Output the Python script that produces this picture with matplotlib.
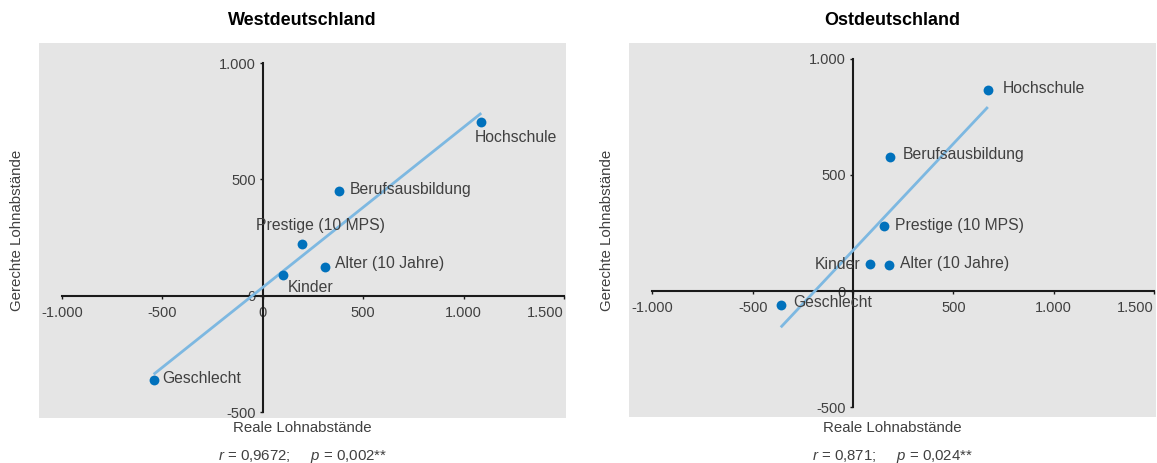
import numpy as np
import matplotlib
matplotlib.use("Agg")
import matplotlib.pyplot as plt
from matplotlib.ticker import FuncFormatter

plt.rcParams['font.family'] = ['Liberation Sans', 'DejaVu Sans']
plt.rcParams['mathtext.fontset'] = 'custom'
plt.rcParams['mathtext.it'] = 'Liberation Sans:italic'
plt.rcParams['mathtext.rm'] = 'Liberation Sans'

# data
labels = ["Hochschule", "Berufsausbildung", "Prestige (10 MPS)",
          "Alter (10 Jahre)", "Kinder", "Geschlecht"]

west_real = [1088, 380, 194, 311, 101, -544]
west_fair = [748, 451, 224, 122, 89, -362]
east_real = [672, 186, 154, 181, 83, -360]
east_fair = [865, 578, 280, 113, 116, -62]

west_stats = ("0,9672", "0,002**")
east_stats = ("0,871", "0,024**")

x_ticks = [-1000, -500, 0, 500, 1000, 1500]
y_ticks = [-500, 0, 500, 1000]

# label placement in pixels (dx, dy, ha)
west_offsets = [(-7, -16, 'left'), (11, 1, 'left'), (-46, 18, 'left'),
                (10, 4, 'left'), (5, -12, 'left'), (9, 2, 'left')]
east_offsets = [(15, 2, 'left'), (12, 2, 'left'), (11, 1, 'left'),
                (11, 1, 'left'), (-9, 0, 'right'), (12, 3, 'left')]

DOT = "#0071BC"
LINE = "#7DB8E1"
TEXT = "#404040"
BG = "#E5E5E5"


def fmt(v, pos):
    return f"{v:,.0f}".replace(",", ".")


def draw_panel(ax, title, xs, ys, offsets, stats, ylim, hide_x0=False):
    ax.set_facecolor(BG)
    ax.set_xlim(-1115, 1510)
    ax.set_ylim(*ylim)

    for side in ["top", "right"]:
        ax.spines[side].set_visible(False)
    ax.spines["left"].set_position(("data", 0))
    ax.spines["bottom"].set_position(("data", 0))
    ax.spines["left"].set_bounds(-500, 1000)
    ax.spines["bottom"].set_bounds(-1000, 1500)
    for side in ["left", "bottom"]:
        ax.spines[side].set_linewidth(1.5)
        ax.spines[side].set_color("#1a1a1a")
        ax.spines[side].set_zorder(2)

    ax.set_xticks(x_ticks)
    ax.set_yticks(y_ticks)
    ax.xaxis.set_major_formatter(FuncFormatter(fmt))
    ax.yaxis.set_major_formatter(FuncFormatter(fmt))
    ax.tick_params(axis="x", length=2.5, width=1, pad=5, labelsize=10.5,
                   labelcolor=TEXT, color="#1a1a1a")
    ax.tick_params(axis="y", length=2.5, width=1, pad=2.5, labelsize=10.5,
                   labelcolor=TEXT, color="#1a1a1a")
    xlabs = ax.get_xticklabels()
    xlabs[-1].set_horizontalalignment("right")
    if hide_x0:
        xlabs[x_ticks.index(0)].set_visible(False)

    # regression line through the points
    slope, icpt = np.polyfit(xs, ys, 1)
    lx = np.array([min(xs), max(xs)])
    ax.plot(lx, slope * lx + icpt, color=LINE, lw=2, zorder=3,
            solid_capstyle="butt")

    ax.scatter(xs, ys, s=50, color=DOT, zorder=4, linewidths=0)

    for lab, x, y, (dx, dy, ha) in zip(labels, xs, ys, offsets):
        ax.annotate(lab, (x, y), xytext=(dx, dy), textcoords="offset pixels",
                    ha=ha, va="center", fontsize=11.3, color=TEXT, zorder=5)

    ax.text(0.5, 1.062, title, transform=ax.transAxes, ha="center",
            va="center", fontsize=13, fontweight="bold", color="black")
    ax.text(0.5, -0.028, "Reale Lohnabstände", transform=ax.transAxes,
            ha="center", va="center", fontsize=10.8, color=TEXT)
    ax.text(-0.042, 0.5, "Gerechte Lohnabstände", transform=ax.transAxes,
            ha="center", va="center", rotation=90, fontsize=10.8, color=TEXT)
    ax.text(0.5, -0.104,
            r"$\it{r}$ = " + stats[0] + r";     $\it{p}$ = " + stats[1],
            transform=ax.transAxes, ha="center", va="center",
            fontsize=10.8, color=TEXT)


fig = plt.figure(figsize=(11.57, 4.63), dpi=100)
ax1 = fig.add_axes([0.0337, 0.0978, 0.4555, 0.8086])
ax2 = fig.add_axes([0.5439, 0.0987, 0.4552, 0.8078])

draw_panel(ax1, "Westdeutschland", west_real, west_fair, west_offsets,
           west_stats, (-524, 1085))
draw_panel(ax2, "Ostdeutschland", east_real, east_fair, east_offsets,
           east_stats, (-544, 1067), hide_x0=True)

fig.savefig("out.png", dpi=100)
